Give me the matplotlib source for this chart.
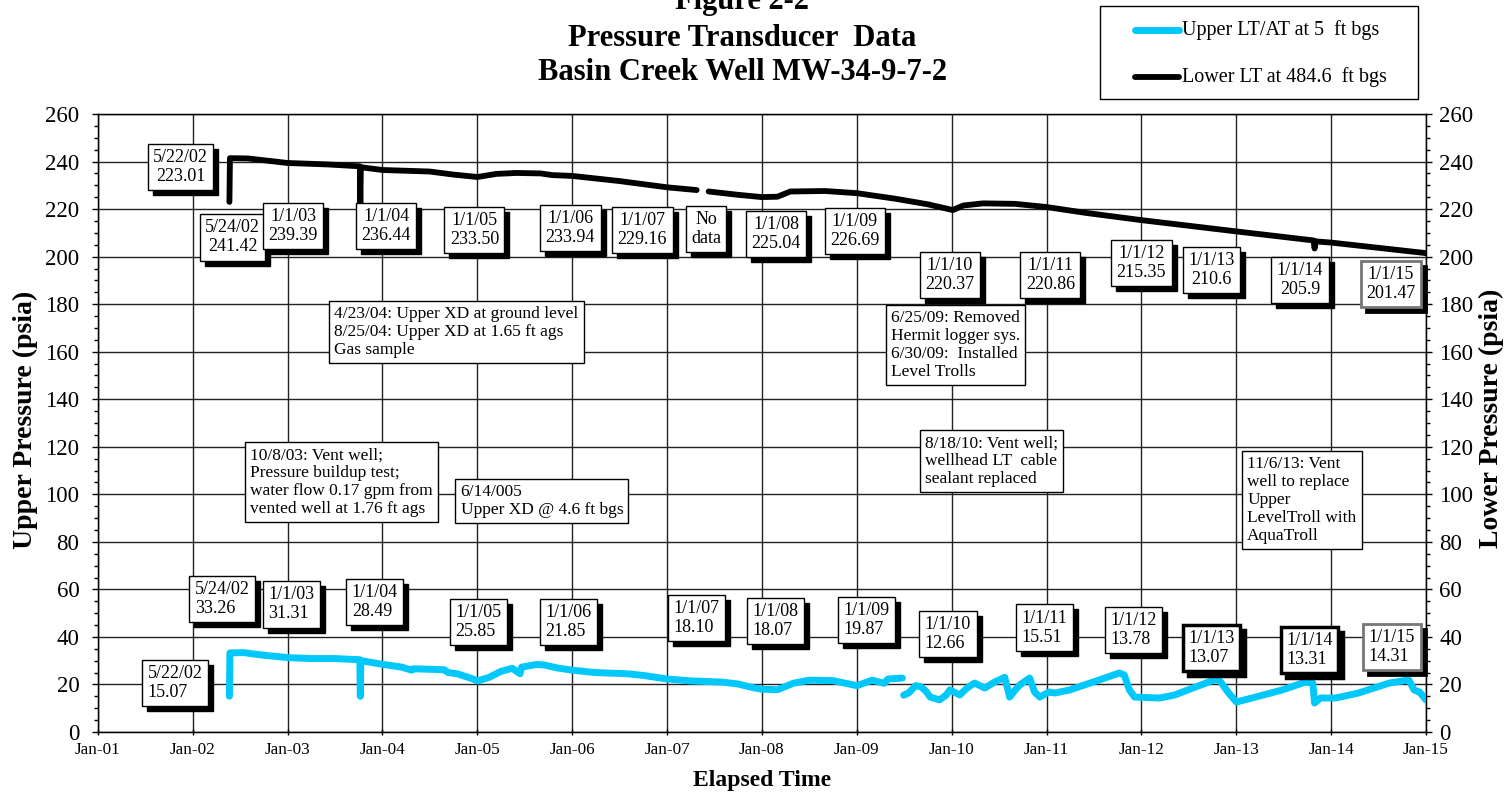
import numpy as np
import matplotlib
matplotlib.use("Agg")
import matplotlib.pyplot as plt
import matplotlib.dates as mdates
from matplotlib.ticker import MultipleLocator
from matplotlib.transforms import offset_copy
from matplotlib.lines import Line2D
from matplotlib.patches import Rectangle
from datetime import datetime, timedelta

plt.rcParams['font.family'] = ['Liberation Serif', 'DejaVu Serif']

# ---------------- data ----------------
upper_dates = ["2002-05-22", "2002-05-24", "2002-07-15", "2002-10-01", "2003-01-01", "2003-04-01",
               "2003-07-01", "2003-10-06", "2003-10-08", "2003-10-10", "2004-01-01", "2004-03-15",
               "2004-04-23", "2004-05-01", "2004-08-25", "2004-09-10", "2004-10-15", "2004-12-10",
               "2005-01-01", "2005-02-15", "2005-04-01", "2005-05-15", "2005-06-14", "2005-06-20",
               "2005-08-15", "2005-09-15", "2005-11-01", "2006-01-01", "2006-04-01", "2006-08-01",
               "2006-10-01", "2007-01-01", "2007-04-01", "2007-08-01", "2007-10-01", "2007-12-01",
               "2008-01-01", "2008-03-01", "2008-05-01", "2008-07-01", "2008-10-01", "2009-01-01",
               "2009-03-01", "2009-04-15", "2009-05-01", "2009-06-25", "2009-06-27",
               "2009-06-30", "2009-07-20", "2009-08-15", "2009-09-05", "2009-09-25", "2009-10-10",
               "2009-11-15", "2009-12-10", "2009-12-25", "2010-02-01", "2010-03-01", "2010-03-30",
               "2010-05-08", "2010-06-15", "2010-07-24", "2010-08-12", "2010-09-01", "2010-09-20",
               "2010-10-28", "2010-11-16", "2010-12-06", "2011-01-10", "2011-02-02", "2011-04-01",
               "2011-07-23", "2011-10-08", "2011-10-27", "2011-11-16", "2011-12-06", "2012-03-12",
               "2012-05-09", "2012-09-06", "2012-10-19", "2012-11-02", "2012-12-02", "2013-01-01",
               "2013-03-02", "2013-06-27", "2013-09-23", "2013-10-22", "2013-10-29", "2013-11-21",
               "2014-01-18", "2014-04-16", "2014-08-13", "2014-10-27", "2014-11-16", "2014-12-07",
               "2015-01-01"]
upper_psia = [15.07, 33.26, 33.4, 32.3, 31.31, 30.9,
              30.9, 30.4, 15.0, 30.0, 28.49, 27.3,
              26.0, 26.6, 26.2, 25.0, 24.5, 22.5,
              21.5, 23.0, 25.5, 26.8, 24.5, 27.3,
              28.4, 28.2, 27.0, 26.0, 25.0, 24.5,
              23.8, 22.3, 21.5, 21.0, 20.2, 18.6,
              18.0, 17.8, 20.5, 21.8, 21.6, 19.5,
              21.8, 20.5, 22.3, 22.7, np.nan,
              15.5, 16.5, 19.5, 19.0, 17.0, 14.7,
              13.5, 15.5, 17.7, 15.6, 18.5, 20.6,
              18.5, 21.0, 23.0, 14.7, 17.5, 19.8,
              22.7, 16.8, 14.7, 16.8, 16.4, 17.7,
              21.9, 24.8, 24.0, 17.7, 14.7, 14.3,
              15.6, 20.6, 22.3, 21.0, 16.4, 12.6,
              14.3, 17.7, 21.0, 20.6, 12.2, 14.3,
              14.3, 16.4, 20.6, 21.9, 17.7, 16.8,
              13.5]

lower_dates = ["2002-05-22", "2002-05-24", "2002-08-01", "2003-01-01", "2003-06-01", "2003-10-06",
               "2003-10-08", "2003-10-10", "2004-01-01", "2004-07-01", "2004-10-01", "2005-01-01",
               "2005-03-15", "2005-06-01", "2005-09-01", "2005-10-15", "2006-01-01", "2006-07-01",
               "2007-01-01", "2007-04-25", "2007-05-15",
               "2007-06-10", "2007-10-01", "2008-01-01", "2008-03-01", "2008-04-20", "2008-09-01",
               "2009-01-01", "2009-06-01", "2009-10-01", "2009-12-20", "2010-01-05", "2010-02-15",
               "2010-05-01", "2010-09-01", "2011-01-01", "2011-06-01", "2012-01-01", "2013-01-01",
               "2013-10-25", "2013-10-29", "2013-11-03", "2014-01-01", "2015-01-01"]
lower_psia = [223.01, 241.42, 241.3, 239.39, 238.8, 238.0,
              222.0, 237.6, 236.44, 235.8, 234.5, 233.5,
              234.8, 235.2, 235.0, 234.3, 233.94, 231.8,
              229.16, 228.0, np.nan,
              227.4, 226.0, 225.04, 225.2, 227.4, 227.6,
              226.69, 224.3, 222.0, 220.0, 219.6, 221.5,
              222.4, 222.2, 220.86, 218.4, 215.35, 210.6,
              206.8, 203.4, 206.4, 205.9, 201.47]

series_labels = ["Upper LT/AT at 5  ft bgs", "Lower LT at 484.6  ft bgs"]
year_ticks = [f"Jan-{y % 100:02d}" for y in range(2001, 2016)]

lower_box_text = ["5/22/02\n223.01", "5/24/02\n241.42", "1/1/03\n239.39", "1/1/04\n236.44",
                  "1/1/05\n233.50", "1/1/06\n233.94", "1/1/07\n229.16", "No\ndata",
                  "1/1/08\n225.04", "1/1/09\n226.69", "1/1/10\n220.37", "1/1/11\n220.86",
                  "1/1/12\n215.35", "1/1/13\n210.6", "1/1/14\n205.9", "1/1/15\n201.47"]
upper_box_text = ["5/22/02\n15.07", "5/24/02\n33.26", "1/1/03\n31.31", "1/1/04\n28.49",
                  "1/1/05\n25.85", "1/1/06\n21.85", "1/1/07\n18.10", "1/1/08\n18.07",
                  "1/1/09\n19.87", "1/1/10\n12.66", "1/1/11\n15.51", "1/1/12\n13.78",
                  "1/1/13\n13.07", "1/1/14\n13.31", "1/1/15\n14.31"]
note_text = ["4/23/04: Upper XD at ground level\n8/25/04: Upper XD at 1.65 ft ags\nGas sample",
             "10/8/03: Vent well;\nPressure buildup test;\nwater flow 0.17 gpm from\nvented well at 1.76 ft ags",
             "6/14/005\nUpper XD @ 4.6 ft bgs",
             "6/25/09: Removed\nHermit logger sys.\n6/30/09:  Installed\nLevel Trolls",
             "8/18/10: Vent well;\nwellhead LT  cable\nsealant replaced",
             "11/6/13: Vent\nwell to replace\nUpper\nLevelTroll with\nAquaTroll"]

# ---------------- layout ----------------
lower_box_pos = [(2001.87, 237.7), (2002.42, 208.2), (2003.06, 212.9), (2004.04, 212.9),
                 (2004.97, 211.2), (2005.98, 212.0), (2006.74, 211.2), (2007.41, 211.6),
                 (2008.15, 209.5), (2008.98, 210.8), (2009.98, 192.3), (2011.04, 192.3),
                 (2012.0, 197.3), (2012.74, 194.4), (2013.67, 190.2), (2014.63, 188.5)]
upper_box_pos = [(2001.81, 20.6), (2002.31, 56.0), (2003.04, 53.8), (2003.92, 54.7),
                 (2005.01, 46.3), (2005.96, 46.3), (2007.31, 48.0), (2008.14, 46.7),
                 (2009.10, 47.1), (2009.96, 41.2), (2010.98, 43.8), (2011.92, 42.9),
                 (2012.74, 35.3), (2013.77, 34.5), (2014.64, 35.8)]
note_pos = [(2004.78, 168.3), (2003.57, 105.2), (2005.68, 97.2),
            (2010.04, 162.8), (2010.42, 114.0), (2013.69, 97.6)]


def yr2num(y):
    base = datetime(int(y), 1, 1)
    return mdates.date2num(base + timedelta(days=(y - int(y)) * 365.25))


W, H = 1505, 794
fig = plt.figure(figsize=(W / 100, H / 100), dpi=100)
ax = fig.add_axes([98 / W, 1 - 732 / H, (1426 - 98) / W, (732 - 114) / H])

ud = mdates.date2num(np.array(upper_dates, dtype="datetime64[D]"))
ldt = mdates.date2num(np.array(lower_dates, dtype="datetime64[D]"))
cyan = "#00C8FA"
ax.plot(ud, upper_psia, color=cyan, lw=5.0, solid_capstyle="round", solid_joinstyle="round", zorder=3)
ax.plot(ldt, lower_psia, color="black", lw=4.2, solid_capstyle="round", solid_joinstyle="round", zorder=3)

x0 = mdates.date2num(datetime(2001, 1, 1))
x1 = mdates.date2num(datetime(2015, 1, 1))
ax.set_xlim(x0, x1)
ax.set_ylim(0, 260)
ax.set_xticks([mdates.date2num(datetime(y, 1, 1)) for y in range(2001, 2016)])
ax.set_xticklabels(year_ticks, fontsize=12.3)
ax.yaxis.set_major_locator(MultipleLocator(20))
ax.yaxis.set_minor_locator(MultipleLocator(5))
ax.tick_params(axis="y", which="major", labelsize=16.5, length=4.5, direction="out", width=1, pad=9)
ax.tick_params(axis="y", which="minor", length=3, direction="out", width=1)
ax.tick_params(axis="x", which="major", length=5, direction="inout", width=1, pad=5)
ax.grid(True, which="major", color="#222222", lw=1.0, zorder=0)
for s in ax.spines.values():
    s.set_color("black")
    s.set_linewidth(1.0)
ax.set_xlabel("Elapsed Time", fontsize=17, fontweight="bold", labelpad=8)

ax2 = ax.twinx()
ax2.set_ylim(0, 260)
ax2.yaxis.set_major_locator(MultipleLocator(20))
ax2.yaxis.set_minor_locator(MultipleLocator(5))
ax2.tick_params(axis="y", which="major", labelsize=16.5, length=4.5, direction="out", width=1, pad=5)
ax2.tick_params(axis="y", which="minor", length=3, direction="out", width=1)

fig.text(25 / W, 1 - 420 / H, "Upper Pressure (psia)", rotation=90, ha="center", va="center",
         fontsize=20, fontweight="bold")
fig.text(1491 / W, 1 - 418 / H, "Lower Pressure (psia)", rotation=90, ha="center", va="center",
         fontsize=20, fontweight="bold")


def box(pos, txt, fs=13, edge="black", lw=1.0, shadow=True, align="left"):
    x, y = yr2num(pos[0]), pos[1]
    kw = dict(ha="center", va="center", fontsize=fs, multialignment=align, zorder=6, linespacing=1.15)
    if shadow:
        tr = offset_copy(ax.transData, fig=fig, x=5, y=-5, units="dots")
        ax.text(x, y, txt, transform=tr, color="black",
                bbox=dict(boxstyle="square,pad=0.3", fc="black", ec="black", lw=lw),
                **kw)
    ax.text(x, y, txt, color="black",
            bbox=dict(boxstyle="square,pad=0.3", fc="white", ec=edge, lw=lw), **kw)


for i, (p, t) in enumerate(zip(lower_box_pos, lower_box_text)):
    edge = "#777777" if i == 15 else "black"
    lw = 2.0 if i == 15 else 1.0
    box(p, t, align="center", edge=edge, lw=lw)
for i, (p, t) in enumerate(zip(upper_box_pos, upper_box_text)):
    edge = "#777777" if i == 14 else "black"
    lw = 2.5 if i in (12, 13) else (2.0 if i == 14 else 1.0)
    box(p, t, align="left", edge=edge, lw=lw)
for p, t in zip(note_pos, note_text):
    box(p, t, fs=12.5, shadow=False, align="left")

# titles
tx = 742 / W
fig.text(tx, 1 - 1 / H, "Figure 2-2", ha="center", va="center", fontsize=22, fontweight="bold")
fig.text(tx, 1 - 38 / H, "Pressure Transducer  Data", ha="center", va="center", fontsize=22, fontweight="bold")
fig.text(tx, 1 - 72 / H, "Basin Creek Well MW-34-9-7-2", ha="center", va="center", fontsize=22, fontweight="bold")

# legend (manual)
fig.patches.append(Rectangle((1100 / W, 1 - 99 / H), 318 / W, 93 / H, transform=fig.transFigure,
                             fc="white", ec="black", lw=1.0))
for yy, col, lab, lw in [(30, cyan, series_labels[0], 5.0), (77, "black", series_labels[1], 4.2)]:
    fig.lines.append(Line2D([1135 / W, 1179 / W], [1 - yy / H, 1 - yy / H], transform=fig.transFigure,
                            color=col, lw=lw, solid_capstyle="round"))
    fig.text(1182 / W, 1 - yy / H, lab, ha="left", va="center", fontsize=14.5)

fig.savefig("out.png", dpi=100)
